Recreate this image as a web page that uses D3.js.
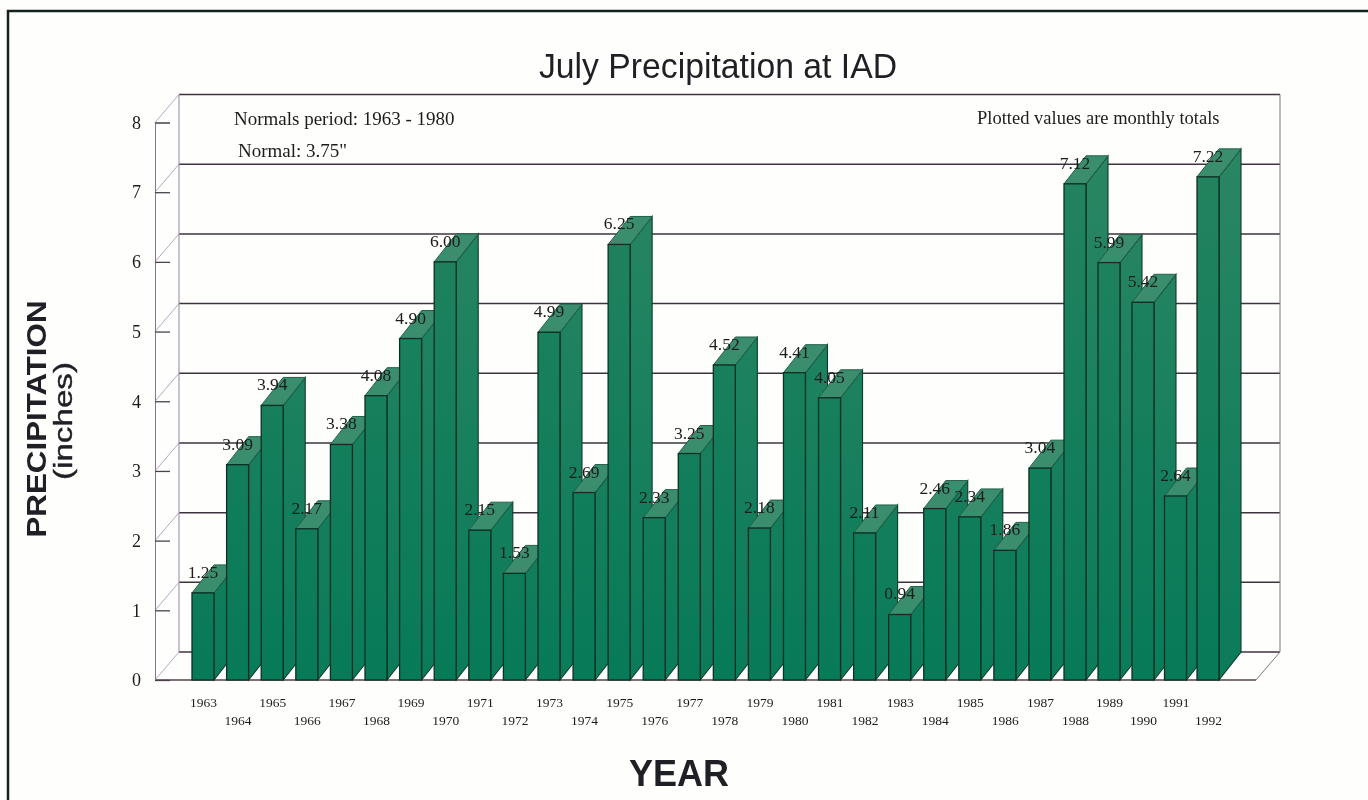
<!DOCTYPE html>
<html>
<head>
<meta charset="utf-8">
<title>July Precipitation at IAD</title>
<script src="https://cdn.jsdelivr.net/npm/d3@7"></script>
<style>
    html, body { margin: 0; padding: 0; background: #fefefd; }
    svg { display: block; filter: blur(0.45px); }
    .serif { font-family: "Liberation Serif", serif; fill: #1c1c1c; }
    .sans { font-family: "Liberation Sans", sans-serif; fill: #1f1f26; }
</style>
</head>
<body>
<div id="chart"></div>
<script>
var years = [1963,1964,1965,1966,1967,1968,1969,1970,1971,1972,
             1973,1974,1975,1976,1977,1978,1979,1980,1981,1982,
             1983,1984,1985,1986,1987,1988,1989,1990,1991,1992];
var precip = [1.25,3.09,3.94,2.17,3.38,4.08,4.90,6.00,2.15,1.53,
              4.99,2.69,6.25,2.33,3.25,4.52,2.18,4.41,4.05,2.11,
              0.94,2.46,2.34,1.86,3.04,7.12,5.99,5.42,2.64,7.22];
var yTicks = [0,1,2,3,4,5,6,7,8];

var width = 1368, height = 800;
// the 3d box: front plane, and how far the back wall is shifted from it
var front = {left:155, right:1256};
var wallDx = 24, wallDy = 28;
var barWidth = 22, barDx = 22, barDy = 28;

var svg = d3.select('#chart').append('svg').attr('width',width).attr('height',height);

var defs = svg.append('defs');
var grad = defs.append('linearGradient').attr('id','barFill')
    .attr('gradientUnits','userSpaceOnUse')
    .attr('x1',0).attr('x2',0).attr('y1',150).attr('y2',680);
grad.append('stop').attr('offset','0%').attr('stop-color','#24835f');
grad.append('stop').attr('offset','100%').attr('stop-color','#077a58');
var gradSide = defs.append('linearGradient').attr('id','barSide')
    .attr('gradientUnits','userSpaceOnUse')
    .attr('x1',0).attr('x2',0).attr('y1',150).attr('y2',680);
gradSide.append('stop').attr('offset','0%').attr('stop-color','#2a8663');
gradSide.append('stop').attr('offset','100%').attr('stop-color','#0a7b59');

// the scan is a bit warped, so the year scale is pinned at a few years
var xs = d3.scaleLinear().domain([1963,1973,1988,1990,1992]).range([192,538,1064,1132,1197]);
var ys = d3.scaleLinear().domain([0,8]).range([680,122.5]);

// page frame
svg.append('path').attr('d','M8,'+height+'V11H'+width)
    .attr('fill','none').attr('stroke','#14211d').attr('stroke-width',2.5);

// back wall and gridlines
var wall = svg.append('g').attr('class','wall');
wall.selectAll('line.grid').data(yTicks).enter().append('line')
    .attr('class','grid')
    .attr('x1',front.left+wallDx).attr('x2',front.right+wallDx)
    .attr('y1',function(d){return ys(d)-wallDy;})
    .attr('y2',function(d){return ys(d)-wallDy;})
    .attr('stroke','#3c343c').attr('stroke-width',1.5);
wall.selectAll('line.diag').data(yTicks).enter().append('line')
    .attr('class','diag')
    .attr('x1',front.left).attr('x2',front.left+wallDx)
    .attr('y1',function(d){return ys(d);})
    .attr('y2',function(d){return ys(d)-wallDy;})
    .attr('stroke','#b8a6c4').attr('stroke-width',1);
wall.append('line')
    .attr('x1',front.left+wallDx).attr('x2',front.left+wallDx)
    .attr('y1',ys(8)-wallDy).attr('y2',ys(0)-wallDy)
    .attr('stroke','#9286a0').attr('stroke-width',1);
wall.append('line')
    .attr('x1',front.right+wallDx).attr('x2',front.right+wallDx)
    .attr('y1',ys(8)-wallDy).attr('y2',ys(0)-wallDy)
    .attr('stroke','#7a7a7a').attr('stroke-width',1);
wall.append('line')
    .attr('x1',front.right).attr('x2',front.right+wallDx)
    .attr('y1',ys(0)).attr('y2',ys(0)-wallDy)
    .attr('stroke','#7a7a7a').attr('stroke-width',1);
wall.append('line')
    .attr('x1',front.left).attr('x2',front.right)
    .attr('y1',ys(0)).attr('y2',ys(0))
    .attr('stroke','#54424a').attr('stroke-width',1.5);

// y axis
var yAxis = svg.append('g')
    .attr('transform','translate('+front.left+',0)')
    .call(d3.axisLeft(ys).tickValues(yTicks).tickFormat(d3.format('d')).tickSize(-15).tickPadding(14));
yAxis.select('.domain').attr('stroke','#84788e');
yAxis.selectAll('.tick line').attr('stroke','#4a434d').attr('stroke-width',1.3);
yAxis.selectAll('.tick text').attr('class','serif').style('font-size','18px');

// bars, left to right so each one hides the side of the previous one
var bars = svg.append('g').selectAll('g.bar')
    .data(years)
    .enter().append('g').attr('class','bar');

bars.append('polygon')
    .attr('points',function(d,i){
        var x0 = xs(d)+barWidth, yt = ys(precip[i]), yb = ys(0);
        return [[x0,yt],[x0,yb],[x0+barDx,yb-barDy],[x0+barDx,yt-barDy]].join(' ');
    })
    .attr('fill','url(#barSide)').attr('stroke','#0f3a2d').attr('stroke-width',1.1);
bars.append('polygon')
    .attr('points',function(d,i){
        var x0 = xs(d), x1 = x0+barWidth, yt = ys(precip[i]);
        return [[x0,yt],[x1,yt],[x1+barDx,yt-barDy],[x0+barDx,yt-barDy]].join(' ');
    })
    .attr('fill','#3a8e6d').attr('stroke','#22604b').attr('stroke-width',1);
bars.append('rect')
    .attr('x',function(d){return xs(d);})
    .attr('y',function(d,i){return ys(precip[i]);})
    .attr('width',barWidth)
    .attr('height',function(d,i){return ys(0)-ys(precip[i]);})
    .attr('fill','url(#barFill)').attr('stroke','#0d2f25').attr('stroke-width',1.3);

// value labels go on top of everything
svg.append('g').selectAll('text')
    .data(years)
    .enter().append('text')
    .attr('class','serif')
    .attr('x',function(d){return xs(d)+11;})
    .attr('y',function(d,i){return ys(precip[i])-15;})
    .attr('text-anchor','middle')
    .style('font-size','17.5px')
    .text(function(d,i){return d3.format('.2f')(precip[i]);});

// x axis, labels staggered on two rows
var xAxis = svg.append('g')
    .attr('transform','translate('+(barWidth/2)+','+ys(0)+')')
    .call(d3.axisBottom(xs).tickValues(years).tickFormat(d3.format('d')).tickSize(0).tickPadding(0));
xAxis.select('.domain').remove();
xAxis.selectAll('.tick text')
    .attr('class','serif')
    .attr('dy',0)
    .attr('y',function(d,i){return i%2 ? 45 : 27;})
    .style('font-size','13.5px');

// titles and notes
svg.append('text').attr('class','sans')
    .attr('x',718).attr('y',78).attr('text-anchor','middle')
    .style('font-size','35px').attr('textLength',358).attr('lengthAdjust','spacingAndGlyphs')
    .text('July Precipitation at IAD');
svg.append('text').attr('class','sans')
    .attr('x',679).attr('y',786).attr('text-anchor','middle')
    .style('font-size','36px').style('font-weight','bold')
    .text('YEAR');
svg.append('text').attr('class','sans')
    .attr('transform','translate(46,419) rotate(-90)').attr('text-anchor','middle')
    .style('font-size','28px').style('font-weight','bold').attr('textLength',237).attr('lengthAdjust','spacingAndGlyphs')
    .text('PRECIPITATION');
svg.append('text').attr('class','sans')
    .attr('transform','translate(72,421) rotate(-90)').attr('text-anchor','middle')
    .style('font-size','26px').style('stroke','#1f1f26').style('stroke-width','0.4px')
    .attr('textLength',118).attr('lengthAdjust','spacingAndGlyphs')
    .text('(inches)');
svg.append('text').attr('class','serif')
    .attr('x',234).attr('y',125)
    .style('font-size','19px')
    .text('Normals period: 1963 - 1980');
svg.append('text').attr('class','serif')
    .attr('x',238).attr('y',157)
    .style('font-size','19px')
    .text('Normal: 3.75"');
svg.append('text').attr('class','serif')
    .attr('x',977).attr('y',124)
    .style('font-size','18.5px')
    .text('Plotted values are monthly totals');
</script>
</body>
</html>
